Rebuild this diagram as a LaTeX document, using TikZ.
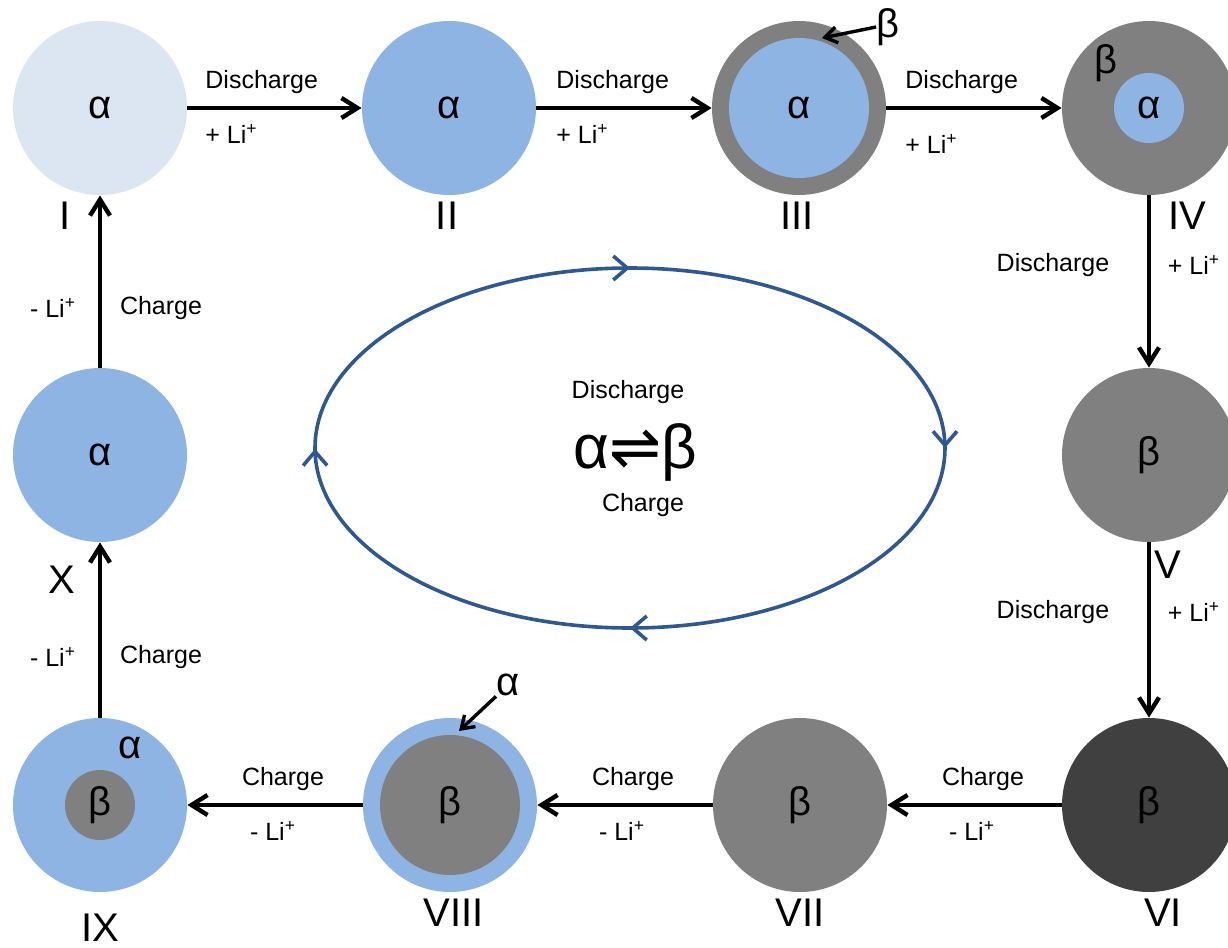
\documentclass[tikz,border=0pt]{standalone}
\usepackage{fontspec}
\setmainfont{Liberation Sans}
\newfontfamily\djv{DejaVu Sans}
\usetikzlibrary{arrows.meta,decorations.markings}
\definecolor{lightblue}{HTML}{DCE6F2}
\definecolor{midblue}{HTML}{8EB4E3}
\definecolor{midgrey}{HTML}{808080}
\definecolor{darkgrey}{HTML}{404040}
\definecolor{ringblue}{HTML}{2F5892}
\begin{document}
\begin{tikzpicture}[x=0.5pt,y=-0.5pt,
  ball/.style={circle,minimum size=87pt,inner sep=0pt,font=\fontsize{20}{23}\selectfont},
  core/.style={circle,inner sep=0pt,font=\fontsize{20}{23}\selectfont},
  greek/.style={inner sep=0pt,font=\fontsize{20}{23}\selectfont},
  flow/.style={line width=2.2pt,-{Straight Barb[length=8pt,width=10pt,line width=2.2pt]}},
  pointer/.style={line width=1.7pt,-{Straight Barb[length=6pt,width=8pt,line width=1.7pt]}},
  lab/.style={font=\fontsize{12.5}{15}\selectfont,inner sep=0pt},
  num/.style={font=\fontsize{20}{24}\selectfont,inner sep=0pt},
  cycmark/.style={ringblue,line width=1.8pt},
]
\useasboundingbox (0,0) rectangle (1228,948);
\clip (0,0) rectangle (1228,948);

% particles
\node[ball,fill=lightblue] (I) at (100,108) {α};
\node[ball,fill=midblue] (II) at (449,108) {α};
\node[ball,fill=midgrey] (III) at (799,108) {};
\node[core,fill=midblue,minimum size=70pt] (IIIc) at (III.center) {α};
\node[ball,fill=midgrey] (IV) at (1149,108) {};
\node[core,fill=midblue,minimum size=35pt] (IVc) at (IV.center) {α};
\node[ball,fill=midgrey] (V) at (1149,455) {β};
\node[ball,fill=darkgrey] (VI) at (1149,805) {β};
\node[ball,fill=midgrey] (VII) at (800,805) {β};
\node[ball,fill=midblue] (VIII) at (450,805) {};
\node[core,fill=midgrey,minimum size=70pt] (VIIIc) at (VIII.center) {β};
\node[ball,fill=midblue] (IX) at (100,805) {};
\node[core,fill=midgrey,minimum size=35pt] (IXc) at (IX.center) {β};
\node[ball,fill=midblue] (X) at (100,455) {α};

% extra phase labels
\node[greek] (bIV) at (1106,63) {β};
\node[greek] (aIX) at (130,748) {α};
\node[greek] (bIII) at (888,27) {β};
\coordinate (bIIItip) at (822,38);
\draw[pointer] (bIII.west) -- (bIIItip);
\node[greek] (aVIII) at (508,685) {α};
\coordinate (aVIIItip) at (459,731);
\draw[pointer] (aVIII.south west) -- (aVIIItip);

% numerals
\node[num] (nI) at (65,216) {I};
\node[num] (nII) at (447,216) {II};
\node[num] (nIII) at (797,216) {III};
\node[num] (nIV) at (1187,216) {IV};
\node[num] (nV) at (1168,565) {V};
\node[num] (nVI) at (1163,913) {VI};
\node[num] (nVII) at (800,913) {VII};
\node[num] (nVIII) at (454,913) {VIII};
\node[num] (nIX) at (100,928) {IX};
\node[num] (nX) at (62,580) {X};

% transitions
\draw[flow] (I) -- (II);
\draw[flow] (II) -- (III);
\draw[flow] (III) -- (IV);
\draw[flow] (IV) -- (V);
\draw[flow] (V) -- (VI);
\draw[flow] (VI) -- (VII);
\draw[flow] (VII) -- (VIII);
\draw[flow] (VIII) -- (IX);
\draw[flow] (IX) -- (X);
\draw[flow] (X) -- (I);

% transition labels
\node[lab,anchor=west] (d1) at (205,82) {Discharge};
\node[lab,anchor=west] (p1) at (205,134) {+ Li\textsuperscript{+}};
\node[lab,anchor=west] (d2) at (556,82) {Discharge};
\node[lab,anchor=west] (p2) at (556,134) {+ Li\textsuperscript{+}};
\node[lab,anchor=west] (d3) at (905,82) {Discharge};
\node[lab,anchor=west] (p3) at (905,144) {+ Li\textsuperscript{+}};
\node[lab] (d4) at (1053,265) {Discharge};
\node[lab] (p4) at (1194,265) {+ Li\textsuperscript{+}};
\node[lab] (d5) at (1053,612) {Discharge};
\node[lab] (p5) at (1194,612) {+ Li\textsuperscript{+}};
\node[lab] (c6) at (983,779) {Charge};
\node[lab] (m6) at (972,831) {- Li\textsuperscript{+}};
\node[lab] (c7) at (633,779) {Charge};
\node[lab] (m7) at (622,831) {- Li\textsuperscript{+}};
\node[lab] (c8) at (283,779) {Charge};
\node[lab] (m8) at (273,831) {- Li\textsuperscript{+}};
\node[lab] (m9) at (53,657) {- Li\textsuperscript{+}};
\node[lab] (c9) at (161,657) {Charge};
\node[lab] (m10) at (53,308) {- Li\textsuperscript{+}};
\node[lab] (c10) at (161,308) {Charge};

% central cycle
\draw[cycmark,postaction={decorate},decoration={markings,
  mark=at position 0.25 with {\arrow{Straight Barb[length=7pt,width=12pt,line width=1.8pt]}},
  mark=at position 0.5 with {\arrow{Straight Barb[length=7pt,width=12pt,line width=1.8pt]}},
  mark=at position 0.75 with {\arrow{Straight Barb[length=7pt,width=12pt,line width=1.8pt]}},
  mark=at position 0.9995 with {\arrow{Straight Barb[length=7pt,width=12pt,line width=1.8pt]}}}]
  (315,448) arc[start angle=180,end angle=540,x radius=315,y radius=180];
\node[lab] (cd) at (628,392) {Discharge};
\node[inner sep=0pt,font=\fontsize{31}{36}\selectfont] (eq) at (635,452) {α{\djv ⇌}β};
\node[lab] (cc) at (643,505) {Charge};
\end{tikzpicture}
\end{document}
